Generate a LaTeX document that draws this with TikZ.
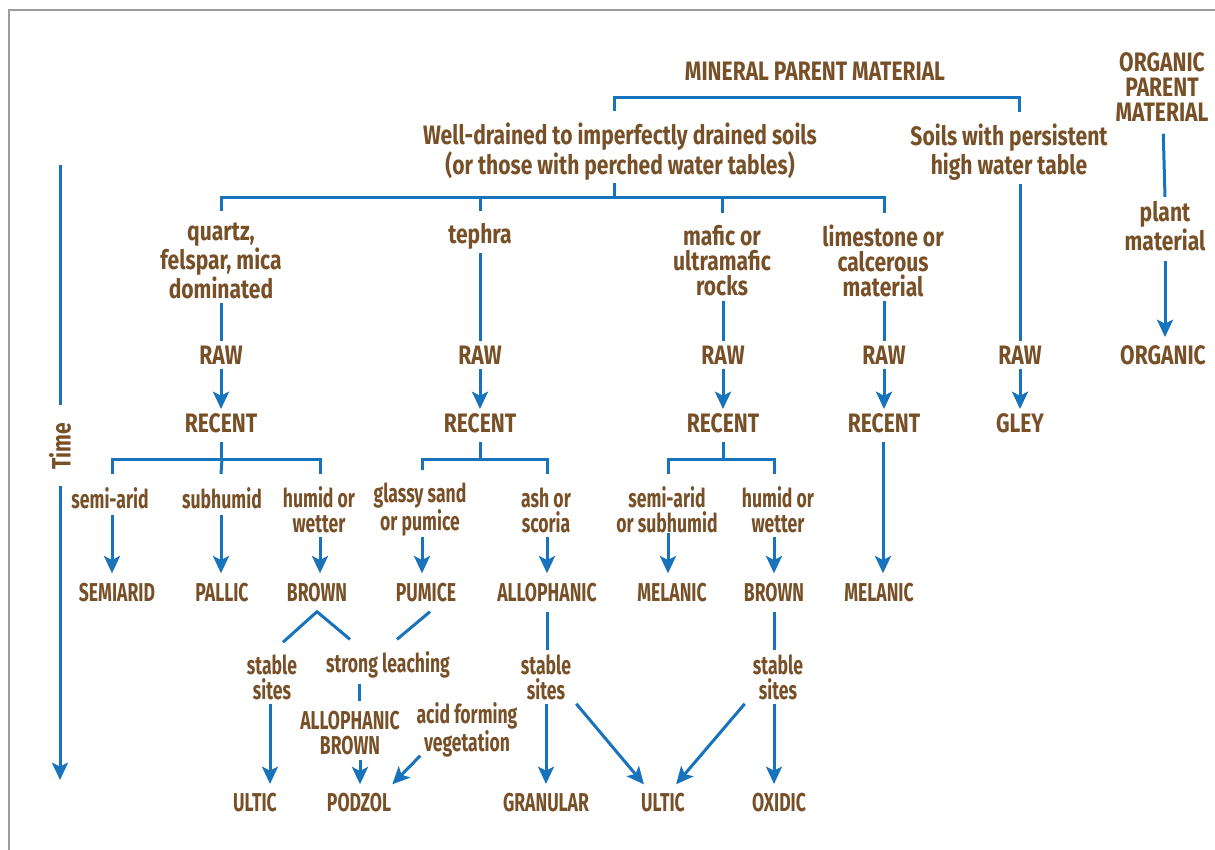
\documentclass[tikz,border=0pt]{standalone}
\usepackage{fontspec}
\setmainfont{Fira Sans}[FakeStretch=0.8]
\newfontfamily\upperfont{Fira Sans}[FakeStretch=0.79]
\newfontfamily\lowerfont{Fira Sans}[FakeStretch=0.68]
\usetikzlibrary{arrows.meta,calc}
\definecolor{soilbrown}{RGB}{120,80,40}
\definecolor{lineblue}{RGB}{23,115,187}
\definecolor{framegray}{RGB}{155,155,155}
\begin{document}
\begin{tikzpicture}[x=0.75pt,y=-0.75pt,
  lbl/.style={text=soilbrown,font=\upperfont\bfseries\fontsize{20}{18.75}\selectfont,align=center,inner sep=3pt},
  sml/.style={text=soilbrown,font=\lowerfont\bfseries\fontsize{19.4}{18.75}\selectfont,align=center,inner sep=3pt},
  ln/.style={draw=lineblue,line width=2.25pt},
  arr/.style={ln,-{Stealth[length=13pt,width=12pt,inset=3pt]}}]
\useasboundingbox (0,0) rectangle (1215,850);
\draw[framegray,line width=1.5pt] (9,850) -- (9,10) -- (1215,10);

% ---------- top level ----------
\node[lbl] (mineral) at (815,71) {MINERAL PARENT MATERIAL};
\node[lbl] (welldrained) at (620,152) {Well-drained to imperfectly drained soils\\(or those with perched water tables)};
\node[lbl] (persistent) at (1009,152) {Soils with persistent\\high water table};
\node[lbl] (organicpm) at (1162,87) {ORGANIC\\PARENT\\MATERIAL};
\node[lbl] (plant) at (1165,226) {plant\\material};
\node[lbl] (organic) at (1163,355) {ORGANIC};

% parent materials
\node[lbl] (quartz) at (221,261) {quartz,\\felspar, mica\\dominated};
\node[lbl] (tephra) at (480,236) {tephra};
\node[lbl] (mafic) at (722,261) {mafic or\\ultramafic\\rocks};
\node[lbl] (limestone) at (883,261) {limestone or\\calcerous\\material};

% RAW / RECENT
\node[lbl] (raw1) at (221,355) {RAW};
\node[lbl] (raw2) at (480,355) {RAW};
\node[lbl] (raw3) at (723,355) {RAW};
\node[lbl] (raw4) at (884,355) {RAW};
\node[lbl] (raw5) at (1020,355) {RAW};
\node[lbl] (recent1) at (221,423) {RECENT};
\node[lbl] (recent2) at (480,423) {RECENT};
\node[lbl] (recent3) at (723,423) {RECENT};
\node[lbl] (recent4) at (884,423) {RECENT};
\node[lbl] (gley) at (1020,423) {GLEY};

% climate / material conditions
\node[sml] (semiarid) at (110,498) {semi-arid};
\node[sml] (subhumid) at (222,498) {subhumid};
\node[sml] (humidA) at (319,510) {humid or\\wetter};
\node[sml] (glassy) at (420,510) {glassy sand\\or pumice};
\node[sml] (ash) at (546,510) {ash or\\scoria};
\node[sml] (semisub) at (667,510) {semi-arid\\or subhumid};
\node[sml] (humidB) at (778,510) {humid or\\wetter};

% soil orders
\node[sml] (semiaridR) at (117,593) {SEMIARID};
\node[sml] (pallic) at (222,593) {PALLIC};
\node[sml] (brownA) at (317,593) {BROWN};
\node[sml] (pumice) at (426,593) {PUMICE};
\node[sml] (allophanic) at (547,593) {ALLOPHANIC};
\node[sml] (melanicA) at (672,593) {MELANIC};
\node[sml] (brownB) at (774,593) {BROWN};
\node[sml] (melanicB) at (879,593) {MELANIC};

% lower processes
\node[sml] (stabA) at (272,677) {stable\\sites};
\node[sml] (leach) at (388,665) {strong leaching};
\node[sml] (alloB) at (350,733) {ALLOPHANIC\\BROWN};
\node[sml] (acid) at (467,730) {acid forming\\vegetation};
\node[sml] (stabB) at (546,677) {stable\\sites};
\node[sml] (stabC) at (778,677) {stable\\sites};

\node[sml] (ulticA) at (255,803) {ULTIC};
\node[sml] (podzol) at (359,803) {PODZOL};
\node[sml] (granular) at (546,803) {GRANULAR};
\node[sml] (ulticB) at (663,803) {ULTIC};
\node[sml] (oxidic) at (779,803) {OXIDIC};

% time axis
\node[lbl,rotate=90] (time) at (60,446) {Time};
\coordinate (timetop) at (60,165);
\coordinate (timeend) at (60,780);
\draw[ln,shorten >=10pt] (timetop) -- (time);
\draw[arr,shorten <=9pt] (time) -- (timeend);

% ---------- connectors ----------
% mineral bracket
\coordinate (mbL) at (614,97);
\coordinate (mbR) at (1019,97);
\draw[ln] ($(welldrained.north)+(-6,-8)$) |- (mbL) -- (mbR) -- ($(persistent.north)+(10,-8)$);

% well-drained branch
\coordinate (wdb) at (614,197);
\draw[ln] ($(welldrained.south)+(-6,-2)$) -- (wdb);
\draw[ln] ($(quartz.north)+(0,-8)$) |- (wdb) -| ($(limestone.north)+(1,-8)$);
\draw[ln] ($(tephra.north)+(0,-8)$) -- (tephra |- wdb);
\draw[ln] ($(mafic.north)+(0,-8)$) -- (mafic |- wdb);

% to RAW
\draw[ln] (quartz) -- (quartz |- raw1.north);
\draw[ln] (tephra) -- (tephra |- raw2.north);
\draw[ln] ($(mafic.south)+(1,0)$) -- (raw3.north);
\draw[ln] ($(limestone.south)+(1,0)$) -- (raw4.north);
\draw[ln] ($(persistent.south)+(11,0)$) -- (raw5.north);
\draw[ln,shorten <=6pt] (organicpm) -- ($(organicpm.south |- plant.north)+(3,0)$);
\draw[arr,shorten >=3pt] ($(plant.south)+(0,6)$) -- (plant.south |- organic.north);

% RAW to RECENT
\draw[arr] (raw1) -- (recent1);
\draw[arr] (raw2) -- (recent2);
\draw[arr] (raw3) -- (recent3);
\draw[arr] (raw4) -- (recent4);
\draw[arr] (raw5) -- (gley);

% RECENT branches
\coordinate (rb1) at (221,459);
\coordinate (rb2) at (480,459);
\coordinate (rb3) at (723,459);
\draw[ln,shorten <=4pt] (recent1) -- (rb1);
\draw[ln] ($(semiarid.north)+(2,-9)$) |- (rb1) -| ($(humidA.north)+(1,-9)$);
\draw[ln] ($(subhumid.north)+(-1,-9)$) -- (subhumid.north |- rb1);
\draw[ln,shorten <=4pt] (recent2) -- (rb2);
\draw[ln] ($(glassy.north)+(2,-9)$) |- (rb2) -| ($(ash.north)+(1,-9)$);
\draw[ln,shorten <=4pt] (recent3) -- (rb3);
\draw[ln] ($(semisub.north)+(1,-9)$) |- (rb3) -| ($(humidB.north)+(-4,-9)$);

% conditions to soil orders
\draw[arr,shorten >=4.5pt] ($(semiarid.south)+(2,2)$) -- ($(semiarid.south |- semiaridR.north)+(2,0)$);
\draw[arr,shorten >=4.5pt] ($(subhumid.south)+(-1,2)$) -- ($(subhumid.south |- pallic.north)+(-1,0)$);
\draw[arr,shorten >=4.5pt] ($(humidA.south)+(1,0)$) -- ($(humidA.south |- brownA.north)+(1,0)$);
\draw[arr,shorten >=4.5pt] ($(glassy.south)+(2,-4)$) -- ($(glassy.south |- pumice.north)+(2,0)$);
\draw[arr,shorten >=4.5pt] ($(ash.south)+(1,0)$) -- ($(ash.south |- allophanic.north)+(1,0)$);
\draw[arr,shorten >=4.5pt] ($(semisub.south)+(1,-4)$) -- ($(semisub.south |- melanicA.north)+(1,0)$);
\draw[arr,shorten >=4.5pt] ($(humidB.south)+(-4,0)$) -- ($(humidB.south |- brownB.north)+(-4,0)$);
\draw[arr,shorten >=4.5pt] ($(recent4.south)+(-1,5)$) -- ($(recent4.south |- melanicB.north)+(-1,0)$);

% lower part
\draw[ln] ($(stabA.north)+(11,-8)$) -- ($(brownA.south)+(0,5)$) -- ($(leach.north)+(-38,-8)$);
\draw[ln] ($(pumice.south)+(4,5)$) -- ($(leach.north)+(9,-8)$);
\draw[ln] ($(leach.south)+(-29,1)$) -- ($(alloB.north)+(9,-6)$);
\draw[arr] ($(alloB.south)+(10,1)$) -- ($(podzol.north)+(1,-5)$);
\draw[arr] ($(acid.south west)+(8,-6)$) -- ($(podzol.north east)+(-3,-5)$);
\draw[arr,shorten >=4pt] ($(stabA.south)+(-2,0)$) -- ($(stabA.south |- ulticA.north)+(-2,0)$);

\draw[ln,shorten <=4pt] (allophanic) -- (allophanic |- stabB.north);
\draw[arr,shorten >=4pt] (stabB) -- (stabB |- granular.north);
\draw[arr] ($(stabB.south east)+(1,0)$) -- ($(ulticB.north west)+(7,-5)$);
\draw[arr] ($(stabC.south west)+(-4,0)$) -- ($(ulticB.north east)+(-13,-5)$);
\draw[ln,shorten <=4pt] (brownB) -- (brownB |- stabC.north);
\draw[arr,shorten >=4pt] ($(stabC.south)+(-4,0)$) -- ($(stabC.south |- oxidic.north)+(-4,0)$);
\end{tikzpicture}
\end{document}
